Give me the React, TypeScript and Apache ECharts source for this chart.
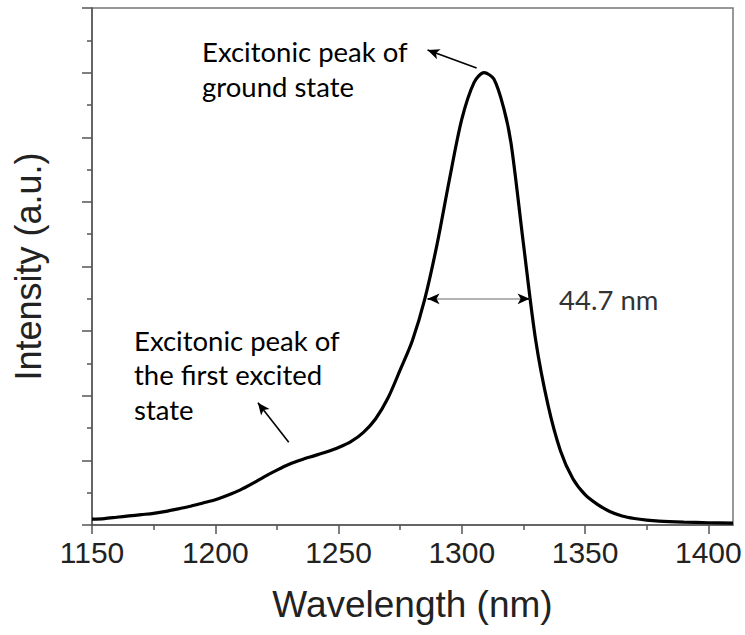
import React, { useEffect, useRef } from "react";
import * as echarts from "echarts";

const wavelengths = [
  1150, 1155, 1160, 1165, 1170, 1175, 1180, 1185, 1190, 1195, 1200, 1205, 1210, 1215, 1220,
  1225, 1230, 1235, 1240, 1245, 1250, 1255, 1260, 1265, 1270, 1275, 1280, 1285, 1290, 1295,
  1300, 1305, 1309, 1313, 1317, 1320, 1325, 1330, 1335, 1340, 1345, 1350, 1355, 1360, 1365,
  1370, 1375, 1380, 1390, 1400, 1410,
];
const intensities = [
  0.09, 0.1, 0.12, 0.14, 0.16, 0.18, 0.21, 0.25, 0.29, 0.34, 0.39, 0.46, 0.54, 0.64, 0.75,
  0.85, 0.94, 1.01, 1.07, 1.13, 1.2, 1.29, 1.43, 1.64, 1.96, 2.4, 2.86, 3.5, 4.35, 5.35,
  6.28, 6.85, 7.0, 6.9, 6.45, 5.9, 4.35, 2.85, 1.85, 1.15, 0.72, 0.47, 0.32, 0.21, 0.14,
  0.1, 0.075, 0.06, 0.045, 0.035, 0.03,
];
const majorXTicks = [1150, 1200, 1250, 1300, 1350, 1400];
const minorXTicks = [1175, 1225, 1275, 1325, 1375];

const fwhmLeft = 1286.1;
const fwhmRight = 1327.5;
const fwhmLevel = 3.5;
const fwhmText = "44.7 nm";
const groundArrow = [[1306, 7.07], [1286.1, 7.35]];
const excitedArrow = [[1229.8, 1.28], [1217.3, 1.89]];
const groundText = "Excitonic peak of\nground state";
const excitedText = "Excitonic peak of\nthe first excited\nstate";

export default function App() {
  const ref = useRef<HTMLDivElement>(null);
  useEffect(() => {
    if (!ref.current) return;
    const chart = echarts.init(ref.current, null, { renderer: "svg" });
    const axisColor = "#555";
    const annFont = "Lato, 'Noto Sans', sans-serif";
    const gridTop = 8;
    const gridBottom = 110;
    const gridHeight = 635 - gridTop - gridBottom;
    const arrowLine = (from: number[], to: number[], color: string) => [
      { coord: from, symbol: "none", lineStyle: { color, width: 1.6, type: "solid" } },
      { coord: to, symbol: "arrow", symbolSize: [8, 12] },
    ];
    chart.setOption({
      animation: false,
      backgroundColor: "#fff",
      grid: {
        left: 92,
        right: 12,
        top: gridTop,
        bottom: gridBottom,
        show: true,
        borderColor: "#777",
        borderWidth: 1.5,
      },
      xAxis: [
        {
          type: "value",
          min: 1150,
          max: 1410,
          interval: 50,
          position: "bottom",
          name: "Wavelength (nm)",
          nameLocation: "middle",
          nameGap: 61,
          nameTextStyle: { fontFamily: "Liberation Sans", fontSize: 37, color: "#222" },
          axisLine: { lineStyle: { color: axisColor, width: 1.5 } },
          axisTick: { show: true, customValues: majorXTicks, length: 9, lineStyle: { color: axisColor, width: 1.5 } },
          axisLabel: {
            customValues: majorXTicks,
            formatter: (v: number) => String(v),
            fontFamily: "Liberation Sans",
            fontSize: 30,
            color: "#222",
            margin: 12,
          },
          splitLine: { show: false },
        },
        {
          type: "value",
          min: 1150,
          max: 1410,
          interval: 25,
          position: "top",
          offset: -gridHeight,
          axisLine: { show: true, onZero: false, lineStyle: { color: "rgba(0,0,0,0)", width: 0 } },
          axisTick: {
            show: true,
            customValues: minorXTicks,
            inside: true,
            length: 5,
            lineStyle: { color: axisColor, width: 1.5 },
          },
          axisLabel: { show: false },
          splitLine: { show: false },
        },
      ],
      yAxis: {
        type: "value",
        min: 0,
        max: 8,
        interval: 1,
        name: "Intensity (a.u.)",
        nameLocation: "middle",
        nameGap: 46,
        nameTextStyle: { fontFamily: "Liberation Sans", fontSize: 36, color: "#222" },
        axisLine: { show: true, lineStyle: { color: axisColor, width: 1.5 } },
        axisTick: { show: true, length: 10, lineStyle: { color: axisColor, width: 1.5 } },
        minorTick: { show: true, splitNumber: 2, length: 5, lineStyle: { color: axisColor, width: 1.5 } },
        axisLabel: { show: false },
        splitLine: { show: false },
      },
      series: [
        {
          type: "line",
          xAxisIndex: 0,
          data: wavelengths.map((w, i) => [w, intensities[i]]),
          showSymbol: false,
          smooth: 0.3,
          lineStyle: { color: "#000", width: 3.2 },
          markLine: {
            silent: true,
            animation: false,
            label: { show: false },
            data: [
              arrowLine(groundArrow[0], groundArrow[1], "#000"),
              arrowLine(excitedArrow[0], excitedArrow[1], "#000"),
              [
                { coord: [fwhmLeft, fwhmLevel], symbol: "none", lineStyle: { color: "#999", width: 1.5, type: "solid" } },
                { coord: [fwhmRight, fwhmLevel], symbol: "none" },
              ],
              arrowLine([fwhmLeft + 3, fwhmLevel], [fwhmLeft, fwhmLevel], "#000"),
              arrowLine([fwhmRight - 3, fwhmLevel], [fwhmRight, fwhmLevel], "#000"),
            ],
          },
        },
      ],
      graphic: [
        {
          type: "text",
          x: 202,
          y: 34,
          style: { text: groundText, fontFamily: annFont, fontSize: 27.5, lineHeight: 35, fill: "#000" },
        },
        {
          type: "text",
          x: 134,
          y: 323,
          style: { text: excitedText, fontFamily: annFont, fontSize: 27.5, lineHeight: 34.5, fill: "#000" },
        },
        {
          type: "text",
          x: 559,
          y: 299,
          style: { text: fwhmText, fontFamily: annFont, fontSize: 27.5, fill: "#333", verticalAlign: "middle" },
        },
      ],
    });
    return () => chart.dispose();
  }, []);
  return (
    <div
      ref={ref}
      style={{ position: "fixed", left: 0, top: 0, width: 745, height: 635, background: "#fff" }}
    />
  );
}
